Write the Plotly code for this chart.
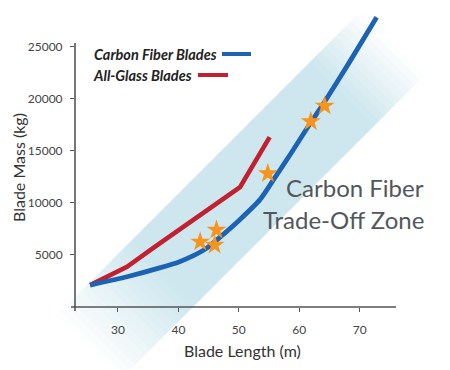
import plotly.graph_objects as go

# ---------------- data ----------------
carbon_len = [25.4, 31.5, 36.9, 40.2, 42.4, 44.7, 46.9, 50.2, 53.5, 55.5, 58.8, 61.9, 64.2, 68.3, 72.8]
carbon_mass = [2100, 2900, 3750, 4350, 4900, 5650, 6700, 8400, 10300, 12000, 14900, 17700, 19700, 23500, 27800]

glass_len = [25.4, 31.5, 35.8, 40.2, 44.7, 49.0, 50.2, 55.1]
glass_mass = [2100, 3850, 5650, 7400, 9300, 10950, 11500, 16300]

star_len = [43.6, 46.0, 46.3, 54.8, 61.9, 64.2]
star_mass = [6250, 5950, 7400, 12800, 17800, 19300]

x_ticks = [30, 40, 50, 60, 70]
y_ticks = [5000, 10000, 15000, 20000, 25000]
y_tick_labels = ["5000", "10000", "15000", "20000", "25000"]

# ---------------- layout geometry ----------------
W, H = 450, 370
OFF = 8                         # page body margin offset of the figure
L, R, T, B = 75, 396, 10, 307   # plot area in page pixels
XR = [22.9, 76.0]
YR = [0, 28500]


def px(x):
    return (x - L) / (R - L)


def py(y):
    return (B - y) / (B - T)


BLUE = "#1c63b3"
RED = "#c3202f"
ORANGE = "#f7941d"
AX = "#555555"

fig = go.Figure()

fig.add_trace(go.Scatter(x=glass_len, y=glass_mass, mode="lines",
                         line=dict(color=RED, width=4.6), showlegend=False,
                         hoverinfo="skip"))
fig.add_trace(go.Scatter(x=carbon_len, y=carbon_mass, mode="lines",
                         line=dict(color=BLUE, width=4.8, shape="spline", smoothing=0.6),
                         showlegend=False, hoverinfo="skip"))
fig.add_trace(go.Scatter(x=star_len, y=star_mass, mode="markers",
                         marker=dict(symbol="star", size=15, color=ORANGE,
                                     line=dict(width=0)),
                         showlegend=False, hoverinfo="skip"))

shapes = []

# ---------- trade-off band (decorative, with faded ends) ----------
band_rgb = (206, 231, 239)
c_up, c_lo = 372, 500          # edges: x + y = c (page pixels)
s_start, s_end = -260, 350     # along-band coordinate s = x - y
fade_lo, fade_hi = -110, 250
n = 60
step = (s_end - s_start) / n
for i in range(n):
    s0 = s_start + i * step
    s1 = s0 + step + 1.0
    sm = s0 + step / 2
    if sm < fade_lo:
        a = (sm - s_start) / (fade_lo - s_start)
    elif sm > fade_hi:
        a = (s_end - sm) / (s_end - fade_hi)
    else:
        a = 1.0
    a = max(0.0, min(1.0, a))
    col = "rgb(%d,%d,%d)" % tuple(round(255 + (c - 255) * a) for c in band_rgb)
    pts = [((c_up + s0) / 2, (c_up - s0) / 2), ((c_up + s1) / 2, (c_up - s1) / 2),
           ((c_lo + s1) / 2, (c_lo - s1) / 2), ((c_lo + s0) / 2, (c_lo - s0) / 2)]
    path = "M " + " L ".join("%.4f,%.4f" % (px(x), py(y)) for x, y in pts) + " Z"
    shapes.append(dict(type="path", xref="paper", yref="paper", path=path,
                       fillcolor=col, line=dict(width=0), layer="below"))

# ---------- axis lines ----------
shapes.append(dict(type="line", xref="paper", yref="paper", x0=0, x1=0,
                   y0=py(311), y1=py(43), line=dict(color=AX, width=1.6)))
shapes.append(dict(type="line", xref="paper", yref="paper", x0=px(71), x1=1,
                   y0=0, y1=0, line=dict(color=AX, width=1.6)))

# ---------- legend lines ----------
shapes.append(dict(type="line", xref="paper", yref="paper", x0=px(222), x1=px(251),
                   y0=py(54), y1=py(54), line=dict(color=BLUE, width=4)))
shapes.append(dict(type="line", xref="paper", yref="paper", x0=px(198), x1=px(228),
                   y0=py(75), y1=py(75), line=dict(color=RED, width=4)))

FONT = "Lato"
annotations = [
    dict(text="<b><i>Carbon Fiber Blades</i></b>", x=px(219), y=py(54), xref="paper",
         yref="paper", xanchor="right", yanchor="middle", showarrow=False,
         font=dict(family=FONT, size=14.5, color="#222222")),
    dict(text="<b><i>All-Glass Blades</i></b>", x=px(194), y=py(75), xref="paper",
         yref="paper", xanchor="right", yanchor="middle", showarrow=False,
         font=dict(family=FONT, size=14.5, color="#222222")),
    dict(text="Carbon Fiber", x=px(426), y=py(187), xref="paper",
         yref="paper", xanchor="right", yanchor="middle", showarrow=False,
         font=dict(family=FONT, size=24, color="#52575b")),
    dict(text="Trade-Off Zone", x=px(426), y=py(219), xref="paper",
         yref="paper", xanchor="right", yanchor="middle", showarrow=False,
         font=dict(family=FONT, size=24, color="#52575b")),
    dict(text="Blade Mass (kg)", x=px(18), y=py(168), xref="paper", yref="paper",
         textangle=-90, xanchor="center", yanchor="middle", showarrow=False,
         font=dict(family=FONT, size=16, color="#333333")),
    dict(text="Blade Length (m)", x=px(243), y=py(350), xref="paper", yref="paper",
         xanchor="center", yanchor="middle", showarrow=False,
         font=dict(family=FONT, size=16, color="#333333")),
]

fig.update_layout(
    width=W, height=H, autosize=False,
    margin=dict(l=L - OFF, r=W - (R - OFF), t=T - OFF, b=H - (B - OFF), pad=0),
    paper_bgcolor="white", plot_bgcolor="rgba(0,0,0,0)",
    shapes=shapes, annotations=annotations, showlegend=False,
    xaxis=dict(range=XR, showgrid=False, zeroline=False, showline=False,
               tickmode="array", tickvals=x_ticks, ticks="outside", ticklen=4,
               tickwidth=1.3, tickcolor=AX, ticklabelstandoff=8,
               tickfont=dict(family=FONT, size=12, color="#444444")),
    yaxis=dict(range=YR, showgrid=False, zeroline=False, showline=False,
               tickmode="array", tickvals=y_ticks, ticktext=y_tick_labels,
               ticks="outside", ticklen=4,
               tickwidth=1.3, tickcolor=AX, ticklabelstandoff=5,
               tickfont=dict(family=FONT, size=12, color="#444444")),
)

fig.write_html("out.html")
